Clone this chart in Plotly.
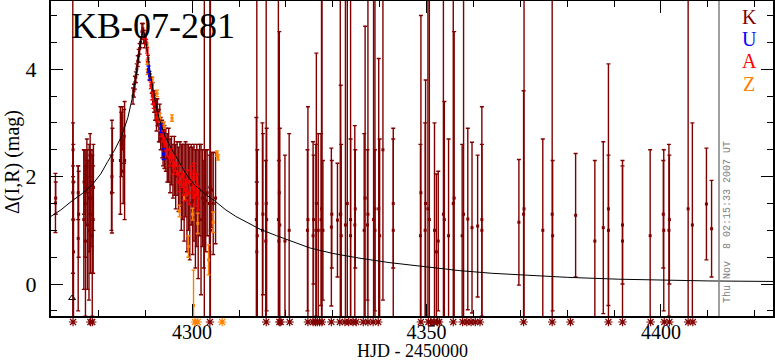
import plotly.graph_objects as go

# ---------------- data ----------------
# K (dark red) observations: day, magnitude difference, error
k_day = [4270.85, 4270.9, 4274.55, 4274.6, 4274.65, 4274.6, 4274.7, 4275.7, 4275.8, 4275.7,
         4276.9, 4276.95, 4277.2, 4277.25, 4277.6, 4277.65, 4277.55, 4278.0, 4278.05, 4278.3,
         4278.35, 4278.25, 4278.7, 4278.65, 4278.9, 4278.95,
         4282.9, 4283.0, 4282.8, 4284.7, 4284.9, 4285.1, 4285.6, 4285.5, 4285.3,
         4287.4, 4287.6, 4287.8, 4288.0, 4288.2, 4288.4, 4288.6, 4288.8, 4289.0,
         4289.3, 4289.5, 4289.7, 4289.9,
         4291.4, 4291.6, 4291.9, 4292.1, 4292.4, 4292.6, 4292.9, 4293.1, 4293.3, 4293.6,
         4293.8, 4294.1, 4294.4, 4294.7, 4295.0, 4295.3, 4295.6, 4295.9, 4296.2, 4296.5,
         4296.8, 4297.1, 4297.4, 4297.7, 4298.0, 4298.3, 4298.6, 4298.9, 4299.2, 4299.5,
         4299.8, 4300.1, 4300.4, 4300.7, 4301.0, 4301.3, 4301.6, 4301.9, 4302.2, 4302.6,
         4302.5, 4302.9, 4303.2, 4303.8, 4303.9, 4303.7, 4304.2, 4304.5, 4305.0,
         4313.7, 4313.8, 4313.9, 4313.8, 4315.0, 4315.1, 4315.8, 4315.9, 4315.7,
         4318.4, 4318.6, 4318.5, 4318.7, 4319.8, 4320.7, 4324.7, 4324.6,
         4325.8, 4325.9, 4326.5, 4326.4, 4326.9, 4327.6, 4327.7, 4327.5, 4327.9,
         4329.7, 4329.8, 4331.0, 4331.6, 4331.7, 4331.8, 4332.7, 4333.1, 4333.8, 4333.8,
         4334.7, 4334.8, 4336.7, 4336.9, 4337.5, 4337.4, 4338.7, 4339.0, 4339.0, 4339.8,
         4340.0, 4340.7, 4342.9, 4342.9,
         4348.8, 4348.7, 4349.7, 4349.8, 4350.3, 4350.6, 4351.7, 4352.1, 4352.5, 4353.6,
         4353.8, 4354.7, 4355.7, 4355.9, 4357.6, 4357.9, 4358.8, 4359.7, 4360.9, 4361.8,
         4361.8, 4369.7, 4370.8, 4370.7, 4374.8, 4376.8, 4376.9,
         4381.8, 4385.9, 4387.7, 4388.8, 4388.8, 4391.8, 4391.8, 4397.7, 4400.6, 4400.5,
         4401.7, 4401.8, 4405.8, 4406.7, 4409.7, 4410.8]
k_mag = [1.51, 1.6, 1.7, 2.5, 1.9, 1.2, 0.6, 0.85, 1.3, 1.7,
         1.2, 1.9, 1.5, 0.8, 1.8, 1.1, 2.2, 1.0, 1.6, 1.9,
         1.3, 2.4, 0.9, 1.6, 1.2, 1.8,
         2.0, 2.3, 1.7, 2.3, 2.6, 2.9, 2.3, 2.75, 2.1,
         3.5, 3.6, 3.75, 3.85, 4.0, 4.15, 4.25, 4.38, 4.5,
         4.7, 4.75, 4.6, 4.5,
         3.7, 3.55, 3.4, 3.3, 3.15, 3.2, 2.95, 3.0, 2.8, 2.7,
         2.6, 2.55, 2.5, 2.35, 2.4, 2.2, 2.3, 2.1, 2.2, 2.0,
         2.15, 1.95, 2.05, 1.8, 1.9, 1.7, 1.95, 1.6, 1.8, 1.5,
         1.85, 1.55, 1.7, 1.4, 1.65, 1.3, 1.75, 1.2, 1.6, 1.5,
         1.3, 1.55, 1.7, 1.8, 1.0, 1.5, 1.75, 1.5, 1.6,
         1.2, 1.5, 0.9, 0.6, 1.0, 1.3, 1.5, 1.2, 0.8,
         1.2, 1.7, 0.8, 1.1, 0.8, 1.0, 1.2, 1.0,
         0.9, 1.2, 1.5, 1.0, 1.0, 1.4, 1.0, 1.2, 1.0,
         1.06, 1.3, 1.19, 1.3, 1.3, 0.9, 1.1, 1.5, 1.2, 0.9,
         1.1, 1.4, 1.0, 1.6, 1.3, 1.1, 1.2, 1.4, 1.0, 1.4,
         0.9, 2.5, 1.0, 1.5,
         1.7, 0.9, 1.0, 1.5, 1.4, 1.2, 1.0, 0.6, 0.8, 1.3,
         1.2, 0.9, 1.5, 1.6, 0.9, 1.3, 1.21, 1.05, 1.08, 1.2,
         1.0, 1.15, 1.4, 1.3, 1.0, 1.3, 0.9,
         1.28, 0.8, 1.05, 1.4, 1.0, 0.8, 1.1, 0.9, 1.0, 1.3,
         1.0, 1.2, 1.4, 1.1, 1.49, 1.03]
k_err = [0.55, 0.3, 6.0, 0.5, 0.7, 1.0, 1.3, 1.35, 0.8, 0.5,
         1.3, 0.6, 1.0, 1.4, 0.7, 1.2, 0.5, 1.3, 1.0, 0.6,
         1.1, 0.4, 1.5, 0.9, 1.0, 0.8,
         1.05, 0.6, 0.7, 1.0, 0.6, 0.4, 1.1, 0.5, 0.6,
         0.15, 0.12, 0.12, 0.1, 0.1, 0.1, 0.12, 0.1, 0.1,
         0.15, 0.1, 0.12, 0.1,
         0.15, 0.2, 0.2, 0.25, 0.3, 0.25, 0.3, 0.35, 0.3, 0.35,
         0.4, 0.4, 0.4, 0.45, 0.5, 0.5, 0.45, 0.5, 0.55, 0.6,
         0.5, 0.6, 0.6, 0.8, 0.7, 0.9, 0.7, 1.0, 0.8, 1.05,
         0.75, 1.0, 0.9, 1.1, 0.95, 1.2, 0.85, 1.4, 0.9, 6.0,
         1.0, 0.95, 0.8, 6.0, 6.0, 0.9, 0.7, 0.95, 0.85,
         1.9, 5.0, 1.6, 1.3, 2.0, 1.5, 5.0, 1.7, 1.5,
         5.0, 3.0, 1.5, 1.8, 1.6, 1.8, 2.1, 1.5,
         1.75, 1.2, 2.8, 1.6, 1.8, 5.0, 5.0, 1.6, 1.3,
         1.47, 1.0, 1.06, 5.0, 2.4, 1.7, 5.0, 5.0, 5.0, 1.8,
         1.85, 1.1, 1.8, 3.2, 5.0, 1.4, 5.0, 5.0, 1.5, 2.8,
         1.8, 2.8, 1.9, 1.2,
         3.3, 1.7, 2.0, 2.3, 5.0, 5.0, 2.0, 1.45, 1.3, 5.0,
         2.2, 1.8, 5.0, 3.1, 1.7, 5.0, 1.69, 1.59, 1.32, 2.1,
         1.6, 1.17, 5.0, 2.3, 1.7, 5.0, 1.4,
         1.15, 1.5, 1.6, 2.7, 1.4, 1.5, 1.1, 1.6, 1.5, 1.0,
         1.6, 1.2, 5.0, 1.9, 1.04, 0.9]

# U (blue)
u_day = [4290.7, 4290.9, 4293.3, 4293.9]
u_mag = [4.0, 3.88, 2.9, 2.42]
u_err = [0.06, 0.08, 0.08, 0.1]

# A (red)
a_day = [4290.0, 4290.2, 4290.4, 4290.6, 4291.0, 4291.2, 4291.5, 4291.8, 4292.5, 4293.4,
         4293.8, 4294.2, 4294.7, 4295.2, 4295.6, 4296.0, 4296.4, 4296.9, 4297.3, 4297.8,
         4298.2, 4298.6, 4299.0, 4299.4, 4299.8, 4300.2, 4300.6, 4301.0, 4301.3, 4300.4]
a_mag = [4.62, 4.5, 4.35, 4.2, 3.85, 3.7, 3.5, 3.35, 3.1, 2.85,
         2.75, 2.6, 2.5, 2.35, 2.4, 2.2, 2.25, 2.05, 1.9, 2.0,
         1.85, 1.75, 1.9, 1.7, 2.05, 1.8, 1.65, 1.85, 1.6, 2.1]
a_err = [0.05, 0.05, 0.05, 0.06, 0.06, 0.06, 0.07, 0.08, 0.08, 0.1,
         0.1, 0.12, 0.12, 0.15, 0.12, 0.15, 0.15, 0.15, 0.18, 0.2,
         0.2, 0.2, 0.22, 0.22, 0.15, 0.2, 0.2, 0.2, 0.22, 0.15]

# Z (orange)
z_day = [4290.35, 4290.45, 4290.5, 4291.5, 4292.5, 4293.1, 4293.3, 4294.0, 4295.7, 4297.3,
         4298.4, 4299.2, 4300.1, 4300.3, 4301.2, 4303.5, 4304.5, 4305.3, 4305.5]
z_mag = [4.45, 4.13, 3.95, 3.8, 3.55, 3.1, 2.92, 2.96, 3.09, 1.36,
         1.61, 0.7, 1.3, -0.4, 1.13, 0.45, 1.15, 2.43, 2.36]
z_err = [0.04, 0.04, 0.05, 0.05, 0.06, 0.08, 0.06, 0.06, 0.06, 0.11,
         0.05, 0.2, 0.11, 0.66, 0.19, 0.28, 0.19, 0.05, 0.05]

# points off the bottom of the plot (drawn as asterisks under the axis)
k_off_day = [4274.6, 4278.3, 4278.7, 4303.8, 4315.8, 4318.6, 4318.9, 4320.8, 4324.7, 4325.8,
             4326.3, 4326.7, 4327.2, 4327.7, 4329.7, 4331.5, 4332.6, 4333.4, 4334.3, 4335.0,
             4336.5, 4337.5, 4338.6, 4339.7, 4348.8, 4350.4, 4350.9, 4351.6, 4352.3, 4352.7,
             4355.7, 4357.7, 4358.6, 4359.5, 4360.4, 4361.4, 4370.7, 4376.8, 4380.7, 4388.8,
             4391.8, 4397.8, 4400.7, 4401.8, 4405.8, 4406.8]
z_off_day = [4300.6, 4301.2, 4306.4]

# black marker near the start
mark_day = [4274.4]
mark_mag = [-0.26]

# model curve
model_day = [4269.9, 4272.0, 4274.4, 4276.5, 4278.7, 4280.5, 4282.0, 4283.5, 4285.0, 4286.3,
             4287.2, 4288.0, 4288.7, 4289.2, 4289.6, 4290.0, 4290.5, 4291.2, 4292.0, 4292.9,
             4294.2, 4295.7, 4297.2, 4298.7, 4300.5, 4302.7, 4304.8, 4307.2, 4309.3, 4312.0,
             4314.5, 4318.0, 4322.0, 4325.2, 4330.0, 4335.8, 4342.0, 4350.0, 4357.0, 4364.0,
             4370.0, 4380.0, 4391.0, 4400.0, 4410.0, 4424.0]
model_mag = [1.26, 1.38, 1.55, 1.68, 1.85, 2.05, 2.28, 2.5, 2.76, 3.1,
             3.45, 3.85, 4.3, 4.6, 4.72, 4.6, 4.3, 3.85, 3.45, 3.1,
             2.76, 2.5, 2.28, 2.05, 1.85, 1.68, 1.55, 1.38, 1.26, 1.13,
             1.02, 0.9, 0.77, 0.67, 0.57, 0.48, 0.4, 0.32, 0.25, 0.2,
             0.17, 0.125, 0.09, 0.072, 0.058, 0.048]

legend_labels = ["K", "U", "A", "Z"]
c_k, c_u, c_a, c_z = "#800000", "#0000ff", "#ff0000", "#ff8000"
legend_colors = [c_k, c_u, c_a, c_z]

# ---------------- layout geometry (pixels) ----------------
W, H = 775, 362
ML, MR, MT, MB = 51, 2, 1, 36
PW = W - ML - MR
PH = H - MT - MB          # paper area height (includes the asterisk strip)
STRIP = 10                # strip under the axis for off-scale asterisks
y_dom0 = STRIP / PH


def px_x(px):
    return (px - ML) / PW


def px_y(py):
    return (H - MB - py) / PH


# ---------------- figure ----------------
fig = go.Figure()


def add_series(x, y, e, color):
    fig.add_trace(go.Scatter(
        x=x, y=y, mode="markers",
        marker=dict(symbol="square", size=3, color=color, line=dict(width=0)),
        error_y=dict(type="data", array=e, visible=True, color=color, thickness=1.4, width=2),
        hoverinfo="skip"))


add_series(k_day, k_mag, k_err, c_k)
add_series(z_day, z_mag, z_err, c_z)
add_series(a_day, a_mag, a_err, c_a)
add_series(u_day, u_mag, u_err, c_u)

fig.add_trace(go.Scatter(x=model_day, y=model_mag, mode="lines",
                         line=dict(color="black", width=1), hoverinfo="skip"))
fig.add_trace(go.Scatter(x=mark_day, y=mark_mag, mode="markers",
                         marker=dict(symbol="triangle-up-open", size=6, color="black",
                                     line=dict(width=1, color="black")),
                         hoverinfo="skip"))

# asterisks in the strip below the axis (second y axis)
for days, col in ((k_off_day, c_k), (z_off_day, c_z)):
    fig.add_trace(go.Scatter(x=days, y=[0.4] * len(days), xaxis="x", yaxis="y2",
                             mode="markers", cliponaxis=False,
                             marker=dict(symbol="asterisk-open", size=7, color=col,
                                         line=dict(width=1.2, color=col)),
                             hoverinfo="skip"))

axis_common = dict(showline=True, linewidth=2, linecolor="black", mirror="ticks",
                   ticks="inside", ticklen=12, tickwidth=1, tickcolor="black",
                   showgrid=False, zeroline=False, automargin=False)

fig.update_layout(
    xaxis=dict(range=[4269.9, 4423.9], tickmode="linear", tick0=4300, dtick=50,
               minor=dict(tick0=4300, dtick=10, ticks="inside", ticklen=6,
                          tickcolor="black", showgrid=False),
               anchor="y", tickfont=dict(size=20), ticklabelstandoff=-3, **axis_common),
    yaxis=dict(range=[-0.595, 5.27], domain=[y_dom0, 1], tickmode="linear", tick0=0, dtick=2,
               minor=dict(tick0=0, dtick=0.5, ticks="inside", ticklen=6,
                          tickcolor="black", showgrid=False),
               anchor="x", tickfont=dict(size=22), ticklabelstandoff=8, **axis_common),
    yaxis2=dict(domain=[0, y_dom0], range=[0, 1], visible=False, anchor="x",
                fixedrange=True),
)

annotations = [
    dict(text="KB-07-281", x=px_x(69), y=px_y(26), xref="paper", yref="paper",
         xanchor="left", yanchor="middle", showarrow=False,
         font=dict(size=36, color="black")),
    dict(text="HJD - 2450000", x=px_x(412), y=px_y(351), xref="paper", yref="paper",
         xanchor="center", yanchor="middle", showarrow=False,
         font=dict(size=18, color="black")),
    dict(text="Δ(I,R) (mag)", x=px_x(12), y=px_y(162), xref="paper", yref="paper",
         xanchor="center", yanchor="middle", textangle=-90, showarrow=False,
         font=dict(size=20, color="black")),
    dict(text="Thu Nov  8 02:15:33 2007 UT", x=px_x(728), y=px_y(222), xref="paper",
         yref="paper", xanchor="center", yanchor="middle", textangle=-90, showarrow=False,
         font=dict(family="Liberation Mono", size=10, color="#808080")),
]
for lab, col, py in zip(legend_labels, legend_colors, [17, 39, 61.5, 83.5]):
    annotations.append(dict(text=lab, x=px_x(749), y=px_y(py), xref="paper", yref="paper",
                            xanchor="center", yanchor="middle", showarrow=False,
                            font=dict(size=20, color=col)))

fig.update_layout(
    width=W, height=H,
    margin=dict(l=ML, r=MR, t=MT, b=MB),
    paper_bgcolor="white", plot_bgcolor="white",
    showlegend=False,
    font=dict(family="Liberation Serif", size=22, color="black"),
    annotations=annotations,
    shapes=[dict(type="line", xref="paper", yref="paper", x0=px_x(719), x1=px_x(719),
                 y0=y_dom0, y1=1, line=dict(color="#808080", width=1.5))],
)

fig.write_html("out.html", config={"displayModeBar": False},
               post_script="document.body.style.margin='0';document.body.style.overflow='hidden';")
